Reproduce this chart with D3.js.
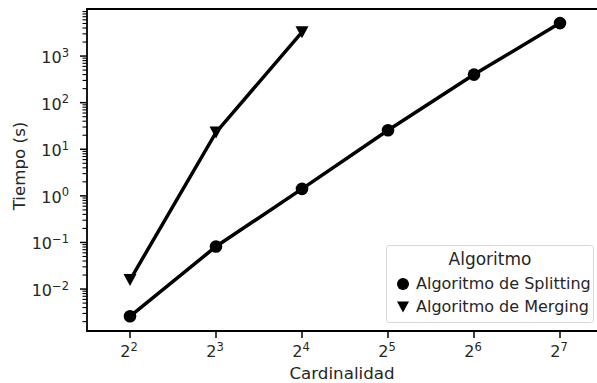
<!DOCTYPE html>
<html><head><meta charset="utf-8">
<script src="https://cdn.jsdelivr.net/npm/d3@7"></script>
<style>body{margin:0;background:#fff}svg{display:block}text{font-family:"DejaVu Sans",sans-serif;fill:#262626}</style>
</head><body><svg id="c" width="597" height="383"></svg>
<script>
const cardinalidad = [4, 8, 16, 32, 64, 128];
const splitting = [0.0026, 0.082, 1.41, 25.6, 400, 5100];
const mergingCard = [4, 8, 16];
const merging = [0.0156, 23, 3250];
const xTickExp = [2, 3, 4, 5, 6, 7];
const yTickExp = [-2, -1, 0, 1, 2, 3];
const legendTitle = "Algoritmo";
const seriesNames = ["Algoritmo de Splitting", "Algoritmo de Merging"];

const svg = d3.select("#c");
const L = 87, T = 9, B = 331, R = 603;
const x = d3.scaleLog().base(2).domain([Math.pow(2, 1.5), Math.pow(2, 7.5)]).range([L, R]);
const y = d3.scaleLog().domain([Math.pow(10, -2.9), Math.pow(10, 4.01)]).range([B, T]);

// minor y ticks
const minor = [];
for (let e = -3; e <= 4; e++) for (let m = 2; m <= 9; m++) {
  const v = m * Math.pow(10, e);
  if (v >= y.domain()[0] && v <= y.domain()[1]) minor.push(v);
}
svg.append("g").selectAll("line").data(minor).join("line")
  .attr("x1", L - 4.5).attr("x2", L).attr("y1", d => y(d)).attr("y2", d => y(d))
  .attr("stroke", "#000").attr("stroke-width", 1.1);
svg.append("g").selectAll("line").data(yTickExp).join("line")
  .attr("x1", L - 7).attr("x2", L).attr("y1", d => y(Math.pow(10, d))).attr("y2", d => y(Math.pow(10, d)))
  .attr("stroke", "#000").attr("stroke-width", 1.5);
const yl = svg.append("g").selectAll("text").data(yTickExp).join("text")
  .attr("x", 69).attr("y", d => y(Math.pow(10, d)) + 7)
  .attr("text-anchor", "end").style("font-size", "16px");
yl.append("tspan").text("10");
yl.append("tspan").attr("dy", -6.5).style("font-size", "11.5px").text(d => String(d).replace("-", "\u2212"));

// x ticks
svg.append("g").selectAll("line").data(xTickExp).join("line")
  .attr("x1", d => x(Math.pow(2, d))).attr("x2", d => x(Math.pow(2, d)))
  .attr("y1", B).attr("y2", B + 7).attr("stroke", "#000").attr("stroke-width", 1.5);
const xl = svg.append("g").selectAll("text").data(xTickExp).join("text")
  .attr("x", d => x(Math.pow(2, d)) - 1).attr("y", 357)
  .attr("text-anchor", "middle").style("font-size", "16px");
xl.append("tspan").text("2");
xl.append("tspan").attr("dy", -6.5).style("font-size", "11.5px").text(d => d);

// spines
svg.append("path").attr("d", `M${L},${T}H${R}V${B}H${L}Z`).attr("fill", "none")
  .attr("stroke", "#000").attr("stroke-width", 1.8);

// labels
svg.append("text").attr("x", (L + 597) / 2).attr("y", 379).attr("text-anchor", "middle")
  .style("font-size", "16.7px").text("Cardinalidad");
svg.append("text").attr("transform", `translate(25,166) rotate(-90)`)
  .attr("text-anchor", "middle").style("font-size", "16.7px").text("Tiempo (s)");

// lines
const line = d3.line().x(d => x(d[0])).y(d => y(d[1]));
const sData = cardinalidad.map((c, i) => [c, splitting[i]]);
const mData = mergingCard.map((c, i) => [c, merging[i]]);
svg.append("path").datum(sData).attr("d", line).attr("fill", "none").attr("stroke", "#000").attr("stroke-width", 3.5);
svg.append("path").datum(mData).attr("d", line).attr("fill", "none").attr("stroke", "#000").attr("stroke-width", 3.5);
svg.append("g").selectAll("circle").data(sData).join("circle")
  .attr("cx", d => x(d[0])).attr("cy", d => y(d[1])).attr("r", 6.3).attr("fill", "#000");
const tri = "M-6.5,-6L6.5,-6L0,6Z";
svg.append("g").selectAll("path").data(mData).join("path")
  .attr("transform", d => `translate(${x(d[0])},${y(d[1])})`).attr("d", tri).attr("fill", "#000");

// legend
const lg = svg.append("g");
lg.append("rect").attr("x", 386.5).attr("y", 245.5).attr("width", 207).attr("height", 77).attr("rx", 3)
  .attr("fill", "#fff").attr("fill-opacity", 0.8).attr("stroke", "#d6d6d6").attr("stroke-width", 1);
lg.append("text").attr("x", 490).attr("y", 265).attr("text-anchor", "middle").style("font-size", "17px").text(legendTitle);
lg.append("circle").attr("cx", 403).attr("cy", 284).attr("r", 6).attr("fill", "#000");
lg.append("path").attr("transform", "translate(403,307)").attr("d", "M-6,-5.5L6,-5.5L0,5.5Z").attr("fill", "#000");
lg.append("text").attr("x", 416).attr("y", 289).style("font-size", "16px").text(seriesNames[0]);
lg.append("text").attr("x", 416).attr("y", 312).style("font-size", "16px").text(seriesNames[1]);
</script></body></html>
